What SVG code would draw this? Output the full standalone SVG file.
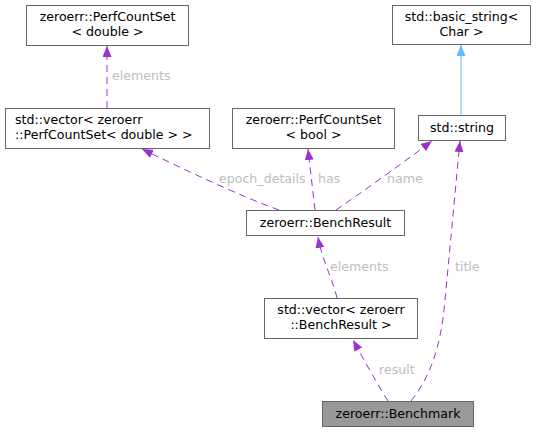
<svg xmlns="http://www.w3.org/2000/svg" width="537" height="432" viewBox="0 0 537 432">
<style>
.box{fill:#ffffff;stroke:#666666;stroke-width:1}
.cur{fill:#999999;stroke:#666666;stroke-width:1}
text{font-family:"DejaVu Sans","Liberation Sans",sans-serif;font-size:12.6px;fill:#000000}
.lbl{fill:#bebebe}
.e{fill:none;stroke:#9a32cd;stroke-width:1;stroke-dasharray:7,5}
.inh{fill:none;stroke:#63b8ff;stroke-width:1}
</style>
<defs>
<marker id="ap" viewBox="0 0 11 9" refX="11" refY="4.5" markerWidth="11" markerHeight="9" markerUnits="userSpaceOnUse" orient="auto"><path d="M0,0 L11,4.5 L0,9 Z" fill="#9a32cd"/></marker>
<marker id="ab" viewBox="0 0 11 9" refX="11" refY="4.5" markerWidth="11" markerHeight="9" markerUnits="userSpaceOnUse" orient="auto"><path d="M0,0 L11,4.5 L0,9 Z" fill="#63b8ff"/></marker>
</defs>
<g id="edges">
<path class="e" d="M107,108 L107,46" marker-end="url(#ap)"/>
<text class="lbl" x="112" y="80">elements</text>
<path class="inh" d="M461,115 L461,45" marker-end="url(#ab)"/>
<path class="e" d="M279,210 C240,196 185,170 142,149" marker-end="url(#ap)"/>
<text class="lbl" x="219" y="183">epoch_details</text>
<path class="e" d="M315,210 L308,149" marker-end="url(#ap)"/>
<text class="lbl" x="318" y="183">has</text>
<path class="e" d="M336,210 C365,190 400,165 432,141" marker-end="url(#ap)"/>
<text class="lbl" x="387" y="183">name</text>
<path class="e" d="M411,401 C428,380 441,350 445,300 L460,141" marker-end="url(#ap)"/>
<text class="lbl" x="455" y="271">title</text>
<path class="e" d="M337,298 C333,280 322,260 318,237" marker-end="url(#ap)"/>
<text class="lbl" x="330" y="271">elements</text>
<path class="e" d="M388,401 C378,385 365,362 353,340" marker-end="url(#ap)"/>
<text class="lbl" x="379" y="374">result</text>
</g>
<g id="perfcountset_double">
<rect class="box" x="26.5" y="5.5" width="162" height="40"/>
<text x="107.5" y="21" text-anchor="middle">zeroerr::PerfCountSet</text>
<text x="107.5" y="36" text-anchor="middle">&lt; double &gt;</text>
</g>
<g id="basic_string">
<rect class="box" x="392.5" y="5.5" width="138" height="39"/>
<text x="461.5" y="21" text-anchor="middle">std::basic_string&lt;</text>
<text x="461.5" y="36" text-anchor="middle">Char &gt;</text>
</g>
<g id="vector_perfcountset">
<rect class="box" x="5.5" y="108.5" width="204" height="40"/>
<text x="15" y="124">std::vector&lt; zeroerr</text>
<text x="15" y="139">::PerfCountSet&lt; double &gt; &gt;</text>
</g>
<g id="perfcountset_bool">
<rect class="box" x="232.5" y="108.5" width="162" height="40"/>
<text x="313.5" y="124" text-anchor="middle">zeroerr::PerfCountSet</text>
<text x="313.5" y="139" text-anchor="middle">&lt; bool &gt;</text>
</g>
<g id="std_string">
<rect class="box" x="418.5" y="115.5" width="87" height="25"/>
<text x="462" y="132" text-anchor="middle">std::string</text>
</g>
<g id="benchresult">
<rect class="box" x="246.5" y="210.5" width="158" height="25"/>
<text x="325.5" y="227" text-anchor="middle">zeroerr::BenchResult</text>
</g>
<g id="vector_benchresult">
<rect class="box" x="264.5" y="298.5" width="153" height="40"/>
<text x="341" y="314" text-anchor="middle">std::vector&lt; zeroerr</text>
<text x="341" y="329" text-anchor="middle">::BenchResult &gt;</text>
</g>
<g id="benchmark">
<rect class="cur" x="322.5" y="401.5" width="151" height="25"/>
<text x="398" y="418" text-anchor="middle">zeroerr::Benchmark</text>
</g>
</svg>
